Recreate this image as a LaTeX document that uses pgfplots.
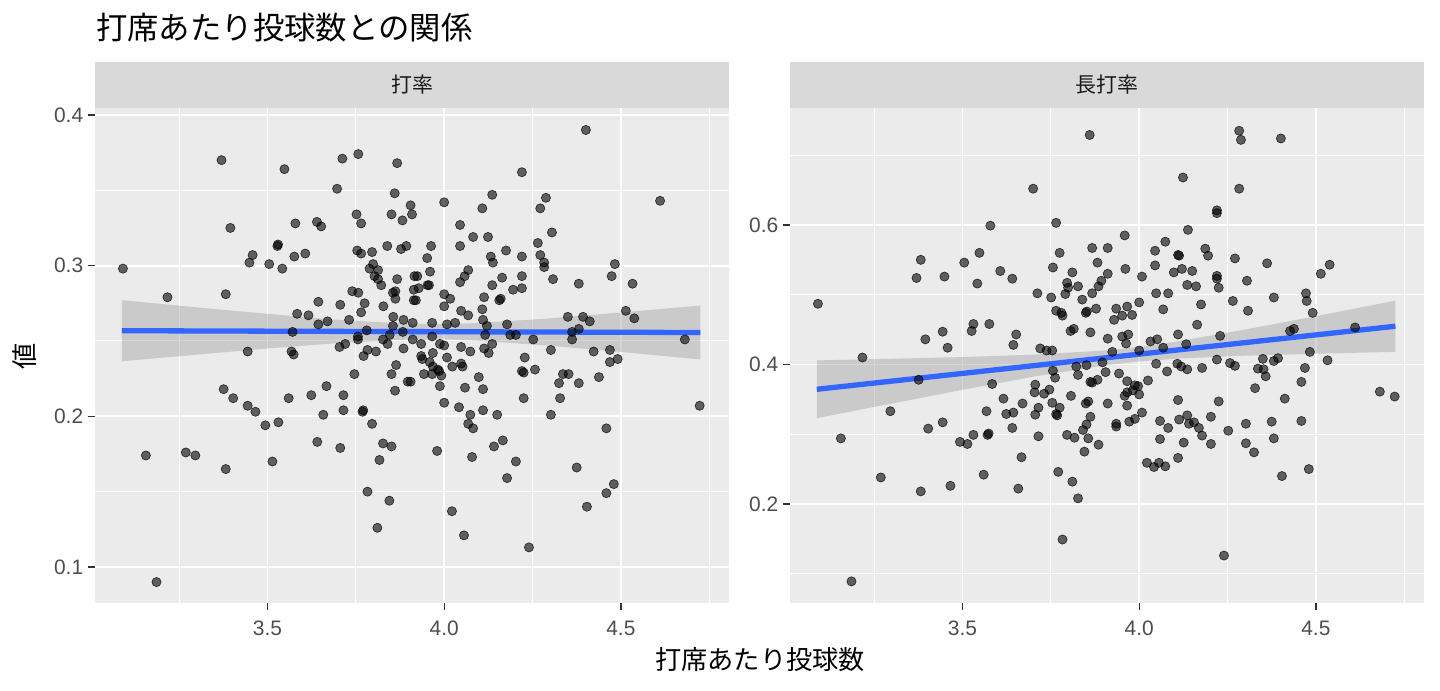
\documentclass[border=0pt]{standalone}
\usepackage{fontspec}
\setmainfont{Liberation Sans}
\newfontfamily\jp{Noto Sans CJK JP}
\usepackage{pgfplots}
\usepackage{pgfplotstable}
\pgfplotsset{compat=1.18}
\definecolor{panelbg}{HTML}{EBEBEB}
\definecolor{stripbg}{HTML}{D9D9D9}
\definecolor{ticktext}{HTML}{4D4D4D}
\definecolor{tickc}{HTML}{333333}
\definecolor{striptext}{HTML}{1A1A1A}
\definecolor{fitblue}{HTML}{3366FF}
\definecolor{bandgrey}{HTML}{999999}

\pgfplotstableread[row sep=\\]{x y\\
3.370 0.370\\3.548 0.364\\3.712 0.371\\3.757 0.374\\3.867 0.368\\3.697 0.351\\3.860 0.348\\3.905 0.340\\3.909 0.334\\3.752 0.334\\3.851 0.334\\3.882 0.330\\3.395 0.325\\3.579 0.328\\3.640 0.329\\3.652 0.326\\3.765 0.328\\3.528 0.313\\3.530 0.314\\3.458 0.307\\3.449 0.302\\3.505 0.301\\3.542 0.298\\3.576 0.306\\3.607 0.308\\3.754 0.310\\3.765 0.308\\3.796 0.309\\3.839 0.313\\3.878 0.311\\3.893 0.313\\3.091 0.298\\3.217 0.279\\3.382 0.281\\3.799 0.301\\3.789 0.298\\3.813 0.297\\3.803 0.293\\3.813 0.291\\3.822 0.287\\3.867 0.291\\3.916 0.293\\3.855 0.282\\3.862 0.283\\3.862 0.278\\3.914 0.284\\3.914 0.277\\3.740 0.283\\3.757 0.282\\3.775 0.275\\3.765 0.269\\3.828 0.273\\3.706 0.274\\3.644 0.276\\3.584 0.268\\3.616 0.267\\3.670 0.263\\3.644 0.261\\3.731 0.264\\3.856 0.266\\3.885 0.264\\3.911 0.262\\3.855 0.260\\3.781 0.257\\3.571 0.256\\3.846 0.254\\3.883 0.256\\3.756 0.253\\3.756 0.251\\3.827 0.251\\3.911 0.251\\3.840 0.248\\3.720 0.248\\3.704 0.246\\3.885 0.245\\3.783 0.244\\3.807 0.243\\3.444 0.243\\3.568 0.243\\
3.574 0.241\\3.772 0.240\\3.864 0.234\\3.851 0.228\\3.746 0.228\\3.897 0.223\\3.905 0.223\\3.861 0.217\\3.376 0.218\\3.403 0.212\\3.444 0.207\\3.466 0.203\\3.560 0.212\\3.624 0.214\\3.667 0.220\\3.715 0.214\\3.715 0.204\\3.658 0.201\\3.769 0.203\\3.771 0.204\\3.494 0.194\\3.531 0.196\\3.796 0.195\\3.156 0.174\\3.269 0.176\\3.296 0.174\\3.382 0.165\\3.514 0.170\\3.641 0.183\\3.706 0.179\\3.827 0.182\\3.851 0.180\\3.817 0.171\\3.783 0.150\\3.845 0.144\\3.811 0.126\\3.186 0.090\\
4.401 0.390\\4.220 0.362\\4.611 0.343\\4.136 0.347\\4.000 0.342\\4.108 0.338\\4.288 0.345\\4.272 0.338\\4.045 0.327\\4.082 0.319\\4.124 0.319\\4.045 0.313\\4.305 0.322\\4.265 0.315\\3.963 0.313\\3.952 0.305\\4.175 0.310\\4.132 0.306\\4.138 0.302\\4.220 0.306\\4.272 0.307\\4.283 0.302\\4.283 0.299\\4.308 0.291\\4.483 0.301\\4.474 0.293\\4.533 0.288\\4.381 0.288\\3.960 0.296\\3.924 0.293\\4.068 0.297\\4.058 0.293\\4.045 0.289\\4.164 0.292\\4.220 0.293\\4.136 0.287\\4.195 0.284\\4.220 0.285\\3.928 0.285\\3.953 0.287\\3.957 0.287\\3.920 0.277\\4.000 0.281\\4.017 0.278\\4.000 0.273\\4.113 0.279\\4.156 0.277\\4.160 0.278\\4.108 0.271\\4.048 0.270\\4.068 0.267\\4.110 0.264\\4.121 0.260\\4.178 0.261\\4.350 0.266\\4.393 0.266\\4.412 0.263\\4.514 0.270\\4.538 0.265\\3.966 0.262\\4.008 0.261\\4.031 0.262\\3.966 0.253\\4.116 0.254\\4.187 0.254\\4.203 0.254\\4.252 0.251\\4.362 0.256\\4.362 0.251\\4.381 0.258\\4.681 0.251\\3.935 0.248\\3.988 0.248\\4.000 0.247\\4.048 0.246\\4.074 0.243\\4.113 0.245\\4.136 0.248\\4.302 0.244\\4.423 0.243\\4.469 0.244\\
3.935 0.240\\3.938 0.238\\3.968 0.242\\4.008 0.239\\4.126 0.242\\4.228 0.239\\4.491 0.238\\4.469 0.236\\3.959 0.236\\3.968 0.233\\3.982 0.231\\3.986 0.230\\3.992 0.227\\3.943 0.228\\3.966 0.228\\4.023 0.233\\4.048 0.235\\4.052 0.233\\3.988 0.220\\4.059 0.219\\4.098 0.226\\4.110 0.218\\4.220 0.230\\4.225 0.229\\4.257 0.231\\4.225 0.212\\4.336 0.228\\4.352 0.228\\4.325 0.222\\4.381 0.222\\4.438 0.226\\4.328 0.212\\4.302 0.201\\4.723 0.207\\4.000 0.209\\4.042 0.206\\4.074 0.201\\4.110 0.204\\4.150 0.201\\4.068 0.195\\4.082 0.192\\4.459 0.192\\3.980 0.177\\4.079 0.173\\4.141 0.180\\4.166 0.184\\4.203 0.170\\4.178 0.159\\4.375 0.166\\4.480 0.155\\4.459 0.149\\4.404 0.140\\4.022 0.137\\4.056 0.121\\4.240 0.113\\
}\avgpts

\pgfplotstableread[row sep=\\]{x y\\
3.860 0.729\\3.700 0.652\\3.579 0.599\\3.765 0.603\\3.382 0.550\\3.370 0.524\\3.449 0.526\\3.505 0.546\\3.548 0.560\\3.542 0.516\\3.607 0.534\\3.641 0.523\\3.775 0.560\\3.756 0.539\\3.811 0.532\\3.867 0.567\\3.911 0.567\\3.882 0.546\\3.911 0.530\\3.893 0.520\\3.885 0.512\\3.796 0.517\\3.799 0.510\\3.827 0.512\\3.791 0.501\\3.867 0.502\\3.839 0.493\\3.712 0.502\\3.751 0.496\\3.878 0.480\\3.849 0.474\\3.852 0.476\\3.765 0.477\\3.780 0.474\\3.783 0.470\\3.806 0.448\\3.815 0.451\\3.862 0.446\\3.911 0.437\\3.091 0.487\\3.531 0.458\\3.526 0.448\\3.576 0.458\\3.444 0.447\\3.395 0.436\\3.458 0.424\\3.652 0.443\\3.644 0.428\\3.720 0.423\\3.738 0.420\\3.754 0.420\\3.217 0.410\\
4.283 0.735\\4.288 0.722\\4.401 0.724\\4.124 0.668\\4.283 0.652\\4.220 0.621\\4.220 0.617\\3.959 0.585\\4.138 0.593\\4.074 0.576\\4.045 0.563\\4.110 0.557\\4.113 0.556\\4.187 0.566\\4.195 0.556\\4.271 0.552\\4.362 0.545\\4.514 0.530\\4.539 0.543\\3.961 0.537\\4.008 0.526\\4.045 0.542\\4.098 0.532\\4.121 0.537\\4.150 0.534\\4.136 0.514\\4.161 0.512\\4.220 0.527\\4.220 0.523\\4.225 0.510\\4.305 0.520\\4.048 0.502\\4.082 0.502\\4.000 0.489\\3.935 0.480\\3.966 0.483\\3.952 0.470\\3.980 0.471\\3.929 0.464\\4.068 0.479\\4.175 0.486\\4.265 0.491\\4.308 0.477\\4.381 0.496\\4.472 0.502\\4.474 0.491\\4.491 0.474\\4.164 0.457\\4.110 0.443\\3.952 0.440\\3.969 0.443\\3.963 0.430\\4.032 0.433\\4.051 0.436\\4.229 0.441\\4.427 0.448\\4.438 0.451\\4.611 0.453\\4.133 0.429\\4.483 0.418\\3.924 0.418\\4.000 0.420\\4.068 0.424\\
3.376 0.378\\3.296 0.333\\3.444 0.317\\3.403 0.308\\3.156 0.294\\3.269 0.238\\3.382 0.218\\3.466 0.226\\3.560 0.242\\3.493 0.289\\3.514 0.286\\3.531 0.299\\3.571 0.299\\3.574 0.301\\3.584 0.372\\3.568 0.333\\3.616 0.351\\3.624 0.329\\3.644 0.331\\3.670 0.344\\3.641 0.309\\3.667 0.267\\3.658 0.222\\3.706 0.371\\3.704 0.360\\3.731 0.358\\3.746 0.364\\3.715 0.338\\3.706 0.328\\3.715 0.297\\3.754 0.345\\3.775 0.338\\3.765 0.329\\3.768 0.327\\3.756 0.391\\3.762 0.381\\3.807 0.355\\3.822 0.397\\3.851 0.399\\3.827 0.385\\3.862 0.375\\3.867 0.374\\3.882 0.378\\3.896 0.403\\3.905 0.389\\3.849 0.344\\3.856 0.347\\3.911 0.344\\3.862 0.325\\3.851 0.314\\3.841 0.306\\3.796 0.299\\3.817 0.295\\3.856 0.294\\3.885 0.285\\3.845 0.275\\3.771 0.246\\3.811 0.232\\3.827 0.208\\3.783 0.149\\3.186 0.089\\
4.048 0.401\\4.108 0.401\\4.119 0.397\\4.136 0.393\\4.079 0.390\\4.178 0.395\\4.220 0.407\\4.257 0.402\\4.271 0.398\\4.350 0.408\\4.381 0.405\\4.393 0.409\\4.336 0.394\\4.352 0.393\\4.358 0.383\\4.469 0.395\\4.459 0.375\\4.533 0.406\\4.328 0.366\\4.412 0.351\\4.681 0.361\\4.723 0.354\\3.943 0.387\\3.966 0.376\\3.988 0.370\\3.997 0.369\\4.025 0.377\\3.959 0.355\\3.966 0.360\\3.982 0.363\\4.000 0.357\\3.966 0.341\\4.110 0.349\\4.225 0.347\\4.008 0.331\\3.988 0.322\\3.972 0.318\\3.935 0.315\\3.935 0.311\\4.059 0.319\\4.113 0.321\\4.136 0.327\\4.141 0.315\\4.155 0.317\\4.169 0.309\\4.082 0.309\\4.203 0.325\\4.178 0.298\\4.252 0.305\\4.302 0.315\\4.375 0.318\\4.459 0.319\\4.381 0.294\\4.302 0.287\\4.325 0.274\\4.059 0.293\\4.126 0.288\\4.203 0.286\\4.110 0.266\\4.022 0.259\\4.042 0.253\\4.056 0.259\\4.074 0.254\\4.404 0.240\\4.480 0.250\\4.240 0.126\\
}\slgpts

\pgfplotsset{facet/.style={
  scale only axis, width=634bp, height=495bp,
  xmin=3.012, xmax=4.806,
  axis background/.style={fill=panelbg},
  axis line style={draw=none},
  xtick={3.5,4,4.5}, minor xtick={3.25,3.75,4.25,4.75},
  grid=both,
  major grid style={white, line width=1.9bp},
  minor grid style={white, line width=1bp},
  tick align=outside, major tick length=6.6bp, minor tick length=0pt,
  xtick pos=left, ytick pos=left,
  tick style={color=tickc, line width=1.3bp},
  ticklabel style={font=\fontsize{21}{25}\selectfont, text=ticktext},
  xticklabel style={inner sep=0pt, yshift=-11bp},
  yticklabel style={inner sep=0pt, xshift=-5bp},
  /pgf/number format/fixed, /pgf/number format/fixed zerofill,
  /pgf/number format/precision=1, /pgf/number format/assume math mode=true,
},
pts/.style={only marks, mark=*, mark size=4.6bp,
  mark options={fill=black, fill opacity=0.6, draw=black, draw opacity=0.75, line width=0.6bp}},
band/.style={fill=bandgrey, fill opacity=0.4, draw=none},
fit/.style={color=fitblue, line width=5.3bp, no marks}
}

\begin{document}
\begin{tikzpicture}
\path[use as bounding box] (0,0) rectangle (1440bp,691bp);
\begin{axis}[facet, at={(95bp,88bp)}, anchor=south west,
  ymin=0.0761, ymax=0.4046,
  ytick={0.1,0.2,0.3,0.4}, minor ytick={0.15,0.25,0.35}]
\addplot[pts] table[x=x, y=y] {\avgpts};
\addplot[band] coordinates {(3.088,0.2365) (3.3,0.2409) (3.5,0.2450) (3.7,0.2486) (3.9,0.2510) (4.0,0.2511) (4.1,0.2501) (4.3,0.2468) (4.5,0.2427) (4.725,0.2377)
 (4.725,0.2735) (4.5,0.2689) (4.3,0.2650) (4.1,0.2619) (4.0,0.2611) (3.9,0.2614) (3.7,0.2640) (3.5,0.2680) (3.3,0.2723) (3.088,0.2771)} -- cycle;
\addplot[fit] coordinates {(3.088,0.2568) (4.725,0.2556)};
\end{axis}
\begin{axis}[facet, at={(790bp,88bp)}, anchor=south west,
  ymin=0.058, ymax=0.7677,
  ytick={0.2,0.4,0.6}, minor ytick={0.1,0.3,0.5,0.7}]
\addplot[pts] table[x=x, y=y] {\slgpts};
\addplot[band] coordinates {(3.088,0.3230) (3.3,0.3440) (3.5,0.3636) (3.7,0.3824) (3.9,0.3985) (4.0,0.4043) (4.1,0.4082) (4.3,0.4126) (4.5,0.4154) (4.725,0.4181)
 (4.725,0.4915) (4.5,0.4692) (4.3,0.4500) (4.1,0.4324) (4.0,0.4251) (3.9,0.4199) (3.7,0.4140) (3.5,0.4106) (3.3,0.4082) (3.088,0.4058)} -- cycle;
\addplot[fit] coordinates {(3.088,0.3644) (4.725,0.4548)};
\end{axis}
\fill[stripbg] (95bp,583bp) rectangle (729bp,629bp);
\fill[stripbg] (790bp,583bp) rectangle (1424bp,629bp);
\node[text=striptext, font=\jp\fontsize{21}{25}\selectfont] at (412bp,606bp) {打率};
\node[text=striptext, font=\jp\fontsize{21}{25}\selectfont] at (1107bp,606bp) {長打率};
\node[anchor=west, inner sep=0pt, font=\jp\fontsize{31.5}{36}\selectfont] at (96bp,663bp) {打席あたり投球数との関係};
\node[inner sep=0pt, font=\jp\fontsize{26.3}{30}\selectfont] at (760bp,31bp) {打席あたり投球数};
\node[inner sep=0pt, rotate=90, font=\jp\fontsize{26.3}{30}\selectfont] at (25bp,335bp) {値};
\end{tikzpicture}
\end{document}
